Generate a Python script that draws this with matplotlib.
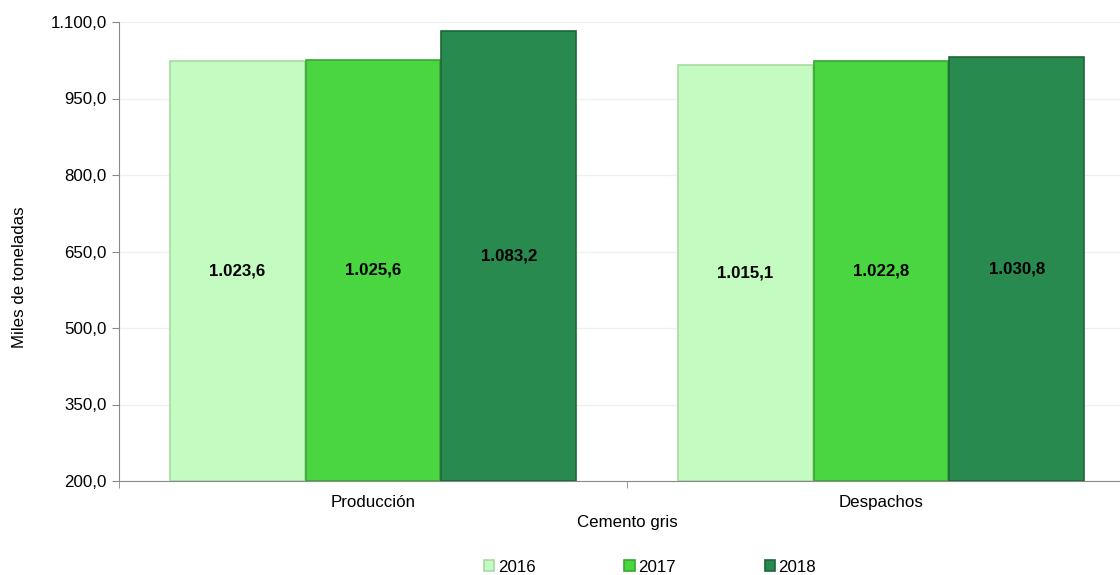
import numpy as np
import matplotlib
matplotlib.use('Agg')
import matplotlib.pyplot as plt
from matplotlib.ticker import FuncFormatter

plt.rcParams['font.family'] = ['Liberation Sans', 'DejaVu Sans']

categories = ['Producción', 'Despachos']
years = ['2016', '2017', '2018']
values = {
    '2016': [1023.6, 1015.1],
    '2017': [1025.6, 1022.8],
    '2018': [1083.2, 1030.8],
}
fills = ['#C3FBC0', '#4AD641', '#288A4F']
edges = ['#A9D9A6', '#37A731', '#1D6639']

base = 200.0
fs = 12.2

def fmt_es(v, pos=None):
    s = '{:,.1f}'.format(v)
    return s.replace(',', 'X').replace('.', ',').replace('X', '.')

fig = plt.figure(figsize=(11.2, 5.75), dpi=100)
ax = fig.add_axes([119 / 1120, 94 / 575, 1016 / 1120, 459 / 575])

x = np.arange(len(categories))
width = 0.267
for i, yr in enumerate(years):
    pos = x + (i - 1) * width
    heights = np.array(values[yr]) - base
    ax.bar(pos, heights, width=width * 0.99, bottom=base, color=fills[i],
           edgecolor=edges[i], linewidth=1.2, label=yr, zorder=3)
    for p, v in zip(pos, values[yr]):
        ax.text(p, (base + v) / 2, fmt_es(v), ha='center', va='center',
                fontsize=fs, fontweight='bold', color='black', zorder=4)

ax.set_xlim(-0.5, 1.5)
ax.set_ylim(200, 1100)
ax.set_yticks(np.arange(200, 1101, 150))
ax.yaxis.set_major_formatter(FuncFormatter(fmt_es))
ax.set_xticks(x)
ax.set_xticklabels(categories)
ax.set_xticks([-0.5, 0.5, 1.5], minor=True)
ax.tick_params(axis='x', which='major', length=0, labelsize=fs, pad=10)
ax.tick_params(axis='x', which='minor', length=5, color='#898989')
ax.tick_params(axis='y', length=5, color='#898989', labelsize=fs, pad=4)

ax.grid(axis='y', color='#F0F0F0', linewidth=1, zorder=0)
for s in ['top', 'right']:
    ax.spines[s].set_visible(False)
for s in ['left', 'bottom']:
    ax.spines[s].set_color('#898989')

ax.set_ylabel('Miles de toneladas', fontsize=fs)
ax.yaxis.set_label_coords(-0.0905, 0.444)
ax.set_xlabel('Cemento gris', fontsize=fs, labelpad=4)

leg = fig.legend(loc='center', bbox_to_anchor=(650 / 1120, 1 - 567 / 575), ncol=3,
                 frameon=False, fontsize=fs, handlelength=0.6, handleheight=0.6,
                 handletextpad=0.2, columnspacing=5.25)

fig.savefig('out.png', dpi=100)
